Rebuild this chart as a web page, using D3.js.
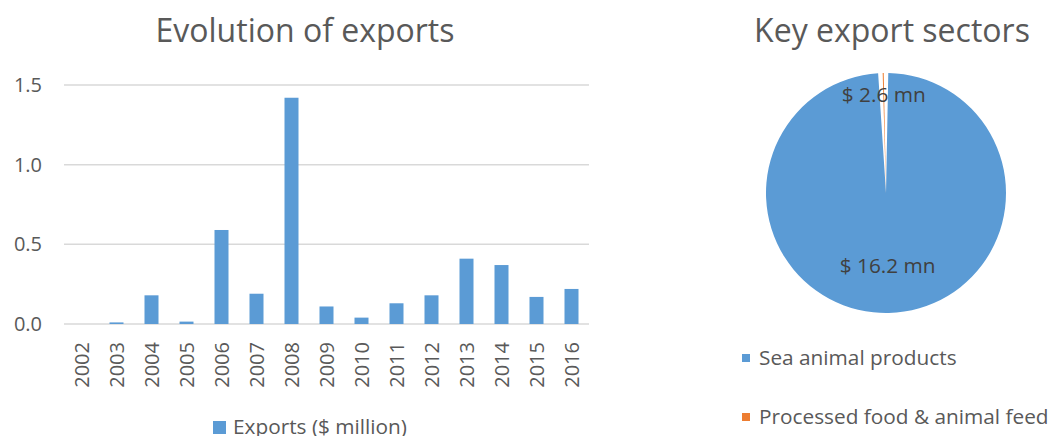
<!DOCTYPE html>
<html>
<head>
<meta charset="utf-8">
<script src="https://cdn.jsdelivr.net/npm/d3@7"></script>
<style>
  body { margin: 0; background: #fff; }
  text { font-family: "Open Sans", sans-serif; fill: #595959; }
</style>
</head>
<body>
<script>
// bar chart data
let years = ['2002','2003','2004','2005','2006','2007','2008','2009','2010','2011','2012','2013','2014','2015','2016']
let exports = [0, 0.01, 0.18, 0.015, 0.59, 0.19, 1.42, 0.11, 0.04, 0.13, 0.18, 0.41, 0.37, 0.17, 0.22]
let yTicks = [0, 0.5, 1.0, 1.5]

// pie data
let sectors = ['Sea animal products', 'Processed food & animal feed']
let sectorShare = [99.86, 0.14]
let sectorLabels = ['$ 16.2 mn', '$ 2.6 mn']

let w = 1051
let h = 436
let blue = '#5B9BD5'
let orange = '#ED7D31'

let svg = d3.select('body').append('svg').attr('width', w).attr('height', h)

// ---- bar chart ----
let x = d3.scaleBand().domain(years).range([64, 589]).paddingInner(0.6).paddingOuter(0.3)
let y = d3.scaleLinear().domain([0, 1.5]).range([324, 85])

svg.append('text').attr('x', 305).attr('y', 42).attr('text-anchor', 'middle')
  .style('font-size', '32px').text('Evolution of exports')

let grid = svg.append('g')
grid.selectAll('line').data(yTicks).enter().append('line')
  .attr('x1', 64).attr('x2', 589)
  .attr('y1', d => y(d)).attr('y2', d => y(d))
  .attr('stroke', '#D9D9D9').attr('stroke-width', 1.5)

let yAxis = svg.append('g').attr('transform', 'translate(42,0)')
  .call(d3.axisLeft(y).tickValues(yTicks).tickFormat(d3.format('.1f')).tickSize(0).tickPadding(0))
yAxis.select('.domain').remove()
yAxis.selectAll('text').style('font-size', '20px').style('fill', '#595959').attr('font-family', null)

svg.selectAll('rect.bar').data(exports).enter().append('rect')
  .attr('class', 'bar')
  .attr('x', (d, i) => x(years[i]))
  .attr('width', x.bandwidth())
  .attr('y', d => y(d))
  .attr('height', d => y(0) - y(d))
  .attr('fill', blue)

let xAxis = svg.append('g').attr('transform', 'translate(0,342)')
  .call(d3.axisBottom(x).tickSize(0).tickPadding(0))
xAxis.select('.domain').remove()
xAxis.selectAll('text')
  .style('font-size', '20px').style('fill', '#595959').attr('font-family', null)
  .attr('text-anchor', 'end').attr('dy', '0.35em').attr('y', 0)
  .attr('transform', 'rotate(-90)')

let leg1 = svg.append('g').attr('transform', 'translate(213,421)')
leg1.append('rect').attr('width', 13).attr('height', 13).attr('fill', blue)
leg1.append('text').attr('x', 20).attr('y', 13).style('font-size', '20.8px').text('Exports ($ million)')

// ---- pie chart ----
let cx = 886, cy = 193, r = 120
svg.append('text').attr('x', 892).attr('y', 42).attr('text-anchor', 'middle')
  .style('font-size', '32px').text('Key export sectors')

let pie = d3.pie().sort(null).padAngle(0.038)
let arcs = pie(sectorShare)
let arc = d3.arc().innerRadius(0).outerRadius(r)
let color = d3.scaleOrdinal().domain(sectors).range([blue, orange])

let pg = svg.append('g').attr('transform', 'translate(' + cx + ',' + cy + ')')
pg.selectAll('path').data(arcs).enter().append('path')
  .attr('d', arc)
  .attr('fill', (d, i) => color(sectors[i]))

let labelR = d => (d.endAngle - d.startAngle) < 0.3 ? r * 0.82 : r * 0.61
pg.selectAll('text').data(arcs).enter().append('text')
  .attr('transform', d => {
    let la = d3.arc().innerRadius(labelR(d)).outerRadius(labelR(d))
    return 'translate(' + la.centroid(d) + ')'
  })
  .attr('text-anchor', 'middle').attr('dy', '0.35em')
  .style('font-size', '20.8px').style('fill', '#404040')
  .text((d, i) => sectorLabels[i])

let leg2 = svg.append('g').attr('transform', 'translate(742,354)')
  .selectAll('g').data(sectors).enter().append('g')
  .attr('transform', (d, i) => 'translate(0,' + (i * 59) + ')')
leg2.append('rect').attr('width', 8).attr('height', 8).attr('fill', d => color(d))
leg2.append('text').attr('x', 17).attr('y', 4).attr('dy', '0.35em')
  .style('font-size', '20.8px').text(d => d)
</script>
</body>
</html>
